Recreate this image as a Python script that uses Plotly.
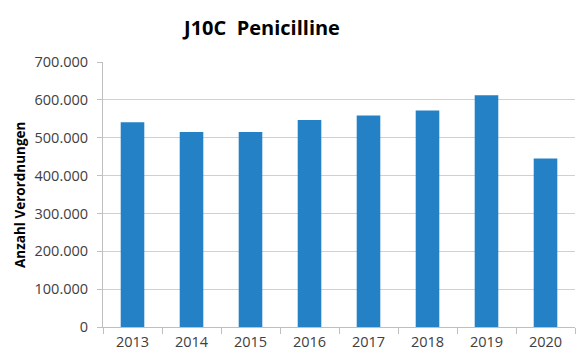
import plotly.graph_objects as go

years = ["2013", "2014", "2015", "2016", "2017", "2018", "2019", "2020"]
verordnungen = [541000, 515000, 515000, 547000, 559000, 572000, 612000, 445000]
y_ticks = [0, 100000, 200000, 300000, 400000, 500000, 600000, 700000]

fig = go.Figure(go.Bar(x=years, y=verordnungen, marker=dict(color="#2481c5", line=dict(width=0))))

fig.update_layout(
    width=576, height=361,
    margin=dict(l=103, r=1, t=62, b=34),
    paper_bgcolor="white", plot_bgcolor="white",
    separators=",.",
    bargap=0.6,
    showlegend=False,
    font=dict(family="Open Sans", size=14, color="#404040"),
    title=dict(text="<b>J10C  Penicilline</b>", x=262/576, xanchor="center", y=1-28/361, yanchor="middle",
               font=dict(family="Open Sans", size=20, color="#000000")),
)
fig.update_xaxes(type="category", showline=True, linecolor="#bfbfbf", linewidth=1,
                 ticks="outside", tickson="boundaries", ticklen=6, tickcolor="#bfbfbf",
                 showgrid=False, tickfont=dict(size=14.5, color="#404040"), ticklabelstandoff=2)
fig.update_yaxes(range=[0, 700000], tickvals=y_ticks, tickformat=",d",
                 showline=True, linecolor="#bfbfbf", linewidth=1,
                 ticks="outside", ticklen=5, tickcolor="#bfbfbf",
                 showgrid=True, gridcolor="#d0d0d0", gridwidth=1,
                 zeroline=False, tickfont=dict(size=14.5, color="#404040"), ticklabelstandoff=6)
fig.add_annotation(text="<b>Anzahl Verordnungen</b>", textangle=-90, xref="paper", yref="paper",
                   x=(20-103)/472, y=(327-195)/265, xanchor="center", yanchor="middle", showarrow=False,
                   font=dict(family="Open Sans", size=13.5, color="#000000"))

fig.write_html("out.html")
